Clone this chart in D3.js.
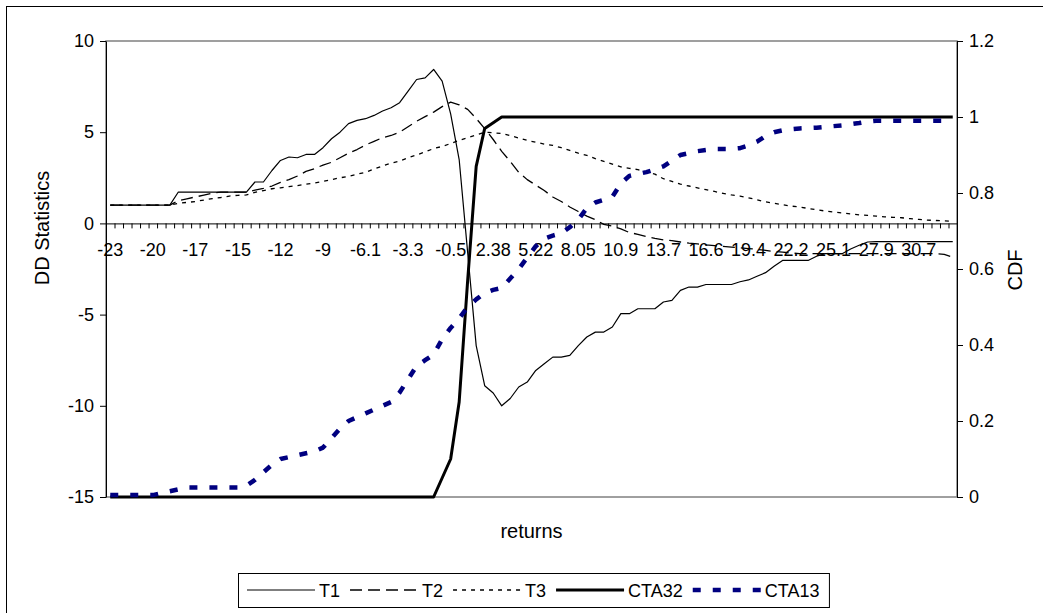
<!DOCTYPE html>
<html>
<head>
<meta charset="utf-8">
<script src="https://cdn.jsdelivr.net/npm/d3@7/dist/d3.min.js"></script>
<style>
  body { margin: 0; background: #fff; }
  text { font-family: "Liberation Sans", Arial, sans-serif; }
</style>
</head>
<body>
<svg></svg>
<script>
// category axis: 100 return buckets, every 5th one labelled
var nCat = 100,
  labelEvery = 5;

var tickLabels = ["-23", "-20", "-17", "-15", "-12", "-9", "-6.1", "-3.3", "-0.5", "2.38",
  "5.22", "8.05", "10.9", "13.7", "16.6", "19.4", "22.2", "25.1", "27.9", "30.7"];

// DD statistics (left axis)
var t1 = [1, 1, 1, 1, 1, 1, 1, 1,
  1.72, 1.72, 1.72, 1.72, 1.72, 1.72, 1.72, 1.72, 1.72,
  2.27, 2.27, 2.9, 3.45, 3.64, 3.6, 3.78, 3.78, 4.15, 4.64, 5.0, 5.47, 5.65, 5.74, 5.92, 6.16,
  6.34, 6.62, 7.25, 7.89, 7.98, 8.44, 7.8, 6.0, 3.5, -1.6, -6.7, -8.9, -9.3, -10.0, -9.6,
  -8.97, -8.7, -8.06, -7.7, -7.33, -7.33, -7.24, -6.7, -6.23, -5.96, -5.96, -5.68, -4.95,
  -4.95, -4.68, -4.68, -4.68, -4.31, -4.22, -3.67, -3.49, -3.49, -3.35, -3.35, -3.35, -3.35,
  -3.2, -3.1, -2.9, -2.7, -2.35, -2.03, -2.03, -2.03, -2.03, -1.8, -1.66, -1.66, -1.66,
  -1.4, -1.2, -1.02,
  -1, -1, -1, -1, -1, -1, -1, -1, -1, -1];

var t2 = [1, 1, 1, 1, 1, 1, 1, 1,
  1.25, 1.35, 1.45, 1.55, 1.65, 1.72, 1.72, 1.72, 1.72,
  1.82, 1.92, 2.05, 2.25, 2.4, 2.6, 2.85, 3.0, 3.2, 3.35, 3.6, 3.85, 4.05, 4.3, 4.5, 4.7,
  4.82, 5.0, 5.3, 5.6, 5.85, 6.1, 6.4, 6.65, 6.5, 6.25, 5.75, 5.2, 4.6, 3.95, 3.4, 2.8,
  2.4, 2.1, 1.8, 1.45, 1.2, 0.9, 0.65, 0.4, 0.2, -0.05, -0.15, -0.3, -0.5, -0.6, -0.72,
  -0.82, -0.9, -0.95, -1.02, -1.08, -1.12, -1.18, -1.22, -1.26, -1.3, -1.34, -1.38, -1.42,
  -1.48, -1.54, -1.58, -1.62,
  -1.66, -1.66, -1.66, -1.66, -1.66, -1.66, -1.66, -1.66, -1.66, -1.66, -1.66, -1.66,
  -1.66, -1.66, -1.66, -1.66, -1.66, -1.7, -1.85];

var t3 = [1, 1, 1, 1, 1, 1, 1, 1,
  1.1, 1.15, 1.2, 1.28, 1.36, 1.42, 1.5, 1.54, 1.56, 1.7, 1.8, 1.9, 1.95, 2.02, 2.07, 2.15,
  2.22, 2.3, 2.4, 2.5, 2.58, 2.7, 2.8, 2.98, 3.15, 3.3, 3.42, 3.6, 3.75, 3.92, 4.1, 4.22,
  4.38, 4.55, 4.7, 4.85, 5.0, 4.97, 4.93, 4.82, 4.68, 4.55, 4.45, 4.35, 4.28, 4.15, 4.0,
  3.85, 3.73, 3.55, 3.4, 3.25, 3.1, 3.02, 2.95, 2.8, 2.7, 2.45, 2.3, 2.15, 2.05, 1.95, 1.85,
  1.75, 1.65, 1.56, 1.5, 1.4, 1.3, 1.18, 1.1, 1.02, 0.95, 0.9, 0.82, 0.75, 0.68, 0.62, 0.57,
  0.52, 0.47, 0.44, 0.4, 0.36, 0.33, 0.31, 0.26, 0.22, 0.18, 0.16, 0.14, 0.12];

// CDFs (right axis)
var cta32 = [0, 0, 0, 0, 0, 0, 0, 0, 0, 0, 0, 0, 0, 0, 0, 0, 0, 0, 0, 0,
  0, 0, 0, 0, 0, 0, 0, 0, 0, 0, 0, 0, 0, 0, 0, 0, 0, 0, 0,
  0.05, 0.1, 0.25, 0.57, 0.87, 0.97, 0.985,
  1, 1, 1, 1, 1, 1, 1, 1, 1, 1, 1, 1, 1, 1, 1, 1, 1, 1, 1, 1, 1, 1, 1, 1, 1, 1, 1, 1, 1, 1,
  1, 1, 1, 1, 1, 1, 1, 1, 1, 1, 1, 1, 1, 1, 1, 1, 1, 1, 1, 1, 1, 1, 1, 1];

var cta13 = [0.005, 0.005, 0.005, 0.005, 0.005, 0.005, 0.01, 0.015, 0.02, 0.025,
  0.025, 0.025, 0.025, 0.025, 0.025, 0.025, 0.03, 0.045, 0.065, 0.085,
  0.1, 0.105, 0.11, 0.115, 0.12, 0.13, 0.155, 0.18, 0.2, 0.21,
  0.22, 0.23, 0.24, 0.25, 0.275, 0.31, 0.345, 0.36, 0.375, 0.415,
  0.445, 0.47, 0.5, 0.52, 0.537, 0.545, 0.55, 0.575, 0.6, 0.63,
  0.66, 0.68, 0.688, 0.694, 0.71, 0.73, 0.76, 0.775, 0.782, 0.79,
  0.825, 0.845, 0.85, 0.855, 0.862, 0.87, 0.885, 0.9, 0.905, 0.91,
  0.913, 0.916, 0.916, 0.916, 0.918, 0.925, 0.935, 0.95, 0.96, 0.965,
  0.968, 0.97, 0.971, 0.972, 0.974, 0.976, 0.978, 0.981, 0.984, 0.988,
  0.99, 0.99, 0.99, 0.99, 0.99, 0.99, 0.99, 0.99, 0.99, 0.99];

var leftTicks = [-15, -10, -5, 0, 5, 10],
  rightTicks = [0, 0.2, 0.4, 0.6, 0.8, 1, 1.2];

var series = [
  { name: "T1", values: t1, axis: "left", color: "#000", width: 1.2, dash: null },
  { name: "T2", values: t2, axis: "left", color: "#000", width: 1.3, dash: "12,6" },
  { name: "T3", values: t3, axis: "left", color: "#000", width: 1.3, dash: "4,5" },
  { name: "CTA32", values: cta32, axis: "right", color: "#000", width: 3, dash: null },
  { name: "CTA13", values: cta13, axis: "right", color: "#000080", width: 4.5, dash: "8,12" }
];

var width = 1043,
  height = 613,
  fontSize = 18,
  titleSize = 20,
  plot = { left: 106, right: 957, top: 41, bottom: 497 };

var svg = d3.select("svg").attr("width", width).attr("height", height);

// chart area border
svg.append("rect")
  .attr("x", 6.5).attr("y", 6.5)
  .attr("width", 1045).attr("height", 620)
  .attr("fill", "#fff").attr("stroke", "#000");

var x = d3.scaleBand().domain(d3.range(nCat)).range([plot.left, plot.right]),
  xEdge = d3.scaleLinear().domain([0, nCat]).range([plot.left, plot.right]),
  yL = d3.scaleLinear().domain([-15, 10]).range([plot.bottom, plot.top]),
  yR = d3.scaleLinear().domain([0, 1.2]).range([plot.bottom, plot.top]);

// plot area frame
svg.append("rect")
  .attr("x", plot.left).attr("y", plot.top)
  .attr("width", plot.right - plot.left).attr("height", plot.bottom - plot.top)
  .attr("fill", "none").attr("stroke", "#808080").attr("stroke-width", 1.5);

function styleAxis(g) {
  g.selectAll("path, line").attr("stroke", "#000");
  g.selectAll("text").attr("font-size", fontSize).attr("fill", "#000")
    .style("font-family", "'Liberation Sans', Arial, sans-serif");
}

svg.append("g")
  .attr("transform", "translate(" + plot.left + ",0)")
  .call(d3.axisLeft(yL).tickValues(leftTicks).tickSize(6).tickPadding(6).tickSizeOuter(0)
    .tickFormat(function(d) { return String(d); }))
  .call(styleAxis);

svg.append("g")
  .attr("transform", "translate(" + plot.right + ",0)")
  .call(d3.axisRight(yR).tickValues(rightTicks).tickSize(6).tickPadding(6).tickSizeOuter(0)
    .tickFormat(function(d) { return String(+d.toFixed(1)); }))
  .call(styleAxis);

// category axis crossing at zero
var zeroY = yL(0);
svg.append("g")
  .attr("transform", "translate(0," + zeroY + ")")
  .call(d3.axisBottom(xEdge).tickValues(d3.range(nCat + 1)).tickSize(5).tickSizeOuter(0).tickFormat(""))
  .call(styleAxis);

var labelIdx = tickLabels.map(function(d, k) { return k * labelEvery; });
svg.append("g")
  .attr("transform", "translate(0," + zeroY + ")")
  .call(d3.axisBottom(x).tickValues(labelIdx).tickSize(0).tickPadding(20)
    .tickFormat(function(i) { return tickLabels[i / labelEvery]; }))
  .call(styleAxis)
  .call(function(g) { g.select(".domain").remove(); });

// lines
var cx = function(d, i) { return x(i) + x.bandwidth() / 2; };
series.forEach(function(s) {
  var y = s.axis === "left" ? yL : yR;
  svg.append("path")
    .datum(s.values)
    .attr("fill", "none")
    .attr("stroke", s.color)
    .attr("stroke-width", s.width)
    .attr("stroke-dasharray", s.dash)
    .attr("stroke-linejoin", "round")
    .attr("d", d3.line().x(cx).y(function(d) { return y(d); }));
});

// axis titles
svg.append("text")
  .attr("transform", "translate(49," + 228 + ") rotate(-90)")
  .attr("text-anchor", "middle").attr("font-size", titleSize)
  .text("DD Statistics");

svg.append("text")
  .attr("transform", "translate(1022," + 270 + ") rotate(-90)")
  .attr("text-anchor", "middle").attr("font-size", titleSize)
  .text("CDF");

svg.append("text")
  .attr("x", (plot.left + plot.right) / 2).attr("y", 538)
  .attr("text-anchor", "middle").attr("font-size", titleSize)
  .text("returns");

// legend
var legend = svg.append("g");
var legendBox = legend.append("rect")
  .attr("x", 238.5).attr("y", 573.5).attr("height", 34)
  .attr("fill", "#fff").attr("stroke", "#000");

var lx = 247;
series.forEach(function(s) {
  legend.append("line")
    .attr("x1", lx).attr("x2", lx + 68)
    .attr("y1", 590).attr("y2", 590)
    .attr("stroke", s.color)
    .attr("stroke-width", s.width)
    .attr("stroke-dasharray", s.dash);
  var t = legend.append("text")
    .attr("x", lx + 72).attr("y", 596.5)
    .attr("font-size", fontSize)
    .text(s.name);
  lx += 72 + t.node().getComputedTextLength() + 10;
});
legendBox.attr("width", lx - 238.5);
</script>
</body>
</html>
